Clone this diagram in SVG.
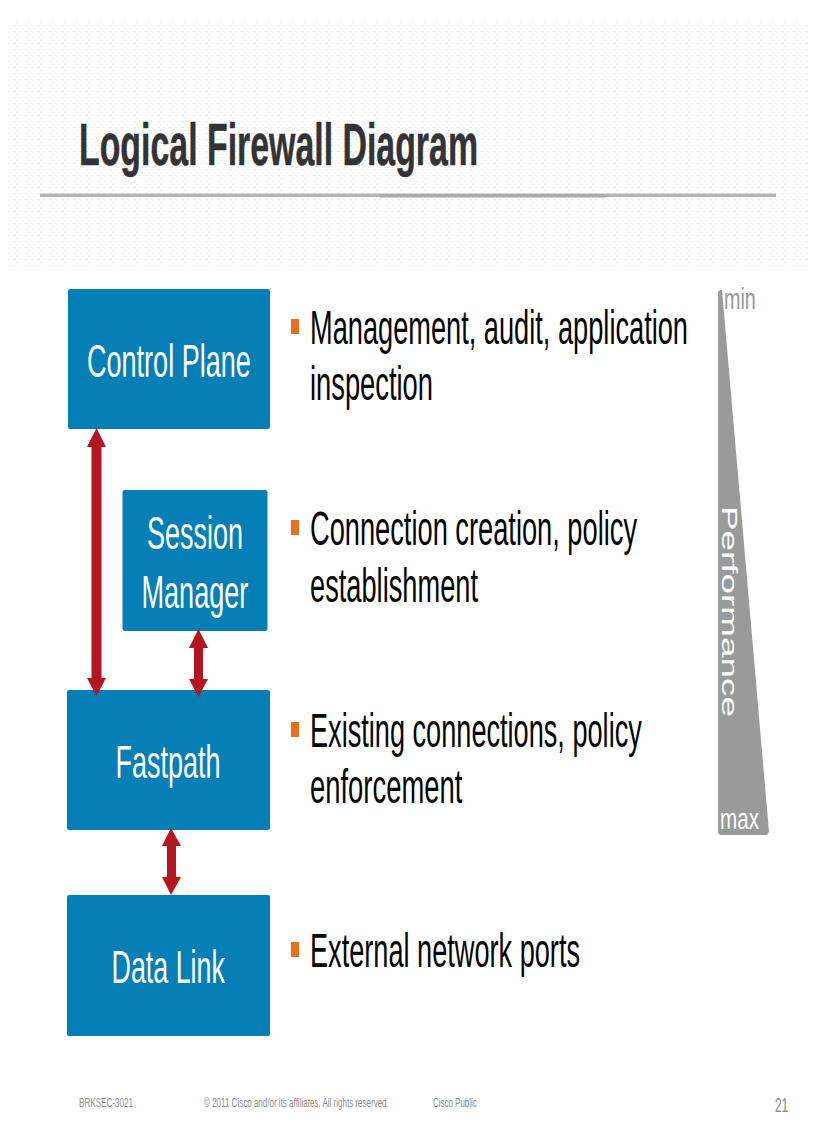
<svg xmlns="http://www.w3.org/2000/svg" width="816" height="1123" viewBox="0 0 816 1123">
<style>
text{font-family:"Liberation Sans",Arial,sans-serif}
.box{fill:#067fb6}
.n{fill:#fff;font-size:46px}
.b{fill:#050505;font-size:48px}
.sq{fill:#e8701a}
.arrow{fill:#b3161f}
.f{fill:#8c8c8c;font-size:13.5px}
</style>
<defs>
<pattern id="dither" width="12" height="6" patternUnits="userSpaceOnUse">
<rect x="1" y="1" width="3" height="1" fill="#f4e6f4"/>
<rect x="7" y="1" width="2" height="1" fill="#e6f2e6"/>
<rect x="4" y="4" width="2" height="1" fill="#ececec"/>
<rect x="10" y="4" width="1" height="1" fill="#f4e6f4"/>
</pattern>
</defs>
<rect width="816" height="1123" fill="#fff"/>
<rect x="8" y="22" width="800" height="244" fill="url(#dither)"/>
<text transform="translate(79 165) scale(.7 1)" font-size="60" font-weight="bold" fill="#333335" stroke="#333335" stroke-width=".5" textLength="570" lengthAdjust="spacingAndGlyphs">Logical Firewall Diagram</text>
<rect x="40" y="193.500" width="736" height="3.500" fill="#b4b4b4"/>
<rect x="380" y="194.500" width="226" height="3" fill="#a8a8a8"/>

<g id="control-plane"><rect class="box" x="68" y="289" width="202" height="140" rx="2"/>
<text class="n" transform="translate(87 377) scale(.6 1)" textLength="273" lengthAdjust="spacingAndGlyphs">Control Plane</text></g>
<g id="session-manager"><rect class="box" x="122.500" y="490" width="145" height="141" rx="2"/>
<text class="n" transform="translate(147 549) scale(.6 1)" textLength="160" lengthAdjust="spacingAndGlyphs">Session</text>
<text class="n" transform="translate(141.500 608) scale(.6 1)" textLength="178" lengthAdjust="spacingAndGlyphs">Manager</text></g>
<g id="fastpath"><rect class="box" x="67" y="690" width="203" height="140" rx="2"/>
<text class="n" transform="translate(115.500 778) scale(.6 1)" textLength="175" lengthAdjust="spacingAndGlyphs">Fastpath</text></g>
<g id="data-link"><rect class="box" x="67" y="895" width="203" height="141" rx="2"/>
<text class="n" transform="translate(111.500 983) scale(.6 1)" textLength="189" lengthAdjust="spacingAndGlyphs">Data Link</text></g>

<g id="connectors">
<polygon class="arrow" points="96.500,428 106,447 101.500,447 101.500,678 106,678 96.500,696 87,678 91.500,678 91.500,447 87,447"/>
<polygon class="arrow" points="198.500,629 208,648 203,648 203,679 208,679 198.500,697 189,679 194,679 194,648 189,648"/>
<polygon class="arrow" points="171,828 181,846 176,846 176,877 181,877 171,895 162,877 167,877 167,846 162,846"/>
</g>

<g id="desc-1"><rect class="sq" x="291" y="319" width="8" height="15"/>
<text class="b" transform="translate(310 344) scale(.6 1)" textLength="630" lengthAdjust="spacingAndGlyphs">Management, audit, application</text>
<text class="b" transform="translate(310 400) scale(.6 1)" textLength="205" lengthAdjust="spacingAndGlyphs">inspection</text></g>
<g id="desc-2"><rect class="sq" x="291" y="520" width="8" height="15"/>
<text class="b" transform="translate(310 545) scale(.6 1)" textLength="545" lengthAdjust="spacingAndGlyphs">Connection creation, policy</text>
<text class="b" transform="translate(310 602) scale(.6 1)" textLength="280" lengthAdjust="spacingAndGlyphs">establishment</text></g>
<g id="desc-3"><rect class="sq" x="291" y="722" width="8" height="15"/>
<text class="b" transform="translate(310 747) scale(.6 1)" textLength="553" lengthAdjust="spacingAndGlyphs">Existing connections, policy</text>
<text class="b" transform="translate(310 803) scale(.6 1)" textLength="254" lengthAdjust="spacingAndGlyphs">enforcement</text></g>
<g id="desc-4"><rect class="sq" x="291" y="942" width="8" height="15"/>
<text class="b" transform="translate(310 967) scale(.6 1)" textLength="450" lengthAdjust="spacingAndGlyphs">External network ports</text></g>

<g id="performance">
<polygon points="718,292 720,290 722,290 769,832 767,835 720,835 718,833" fill="#999b9b"/>
<text transform="translate(724 309) scale(.65 1)" font-size="29" fill="#999" textLength="49" lengthAdjust="spacingAndGlyphs">min</text>
<text transform="translate(720 829) scale(.65 1)" font-size="29" fill="#fff" textLength="60" lengthAdjust="spacingAndGlyphs">max</text>
<text transform="translate(722 506) rotate(90)" font-size="22" fill="#fff" textLength="211" lengthAdjust="spacingAndGlyphs">Performance</text>
</g>

<text class="f" transform="translate(79 1107) scale(.6 1)" textLength="90" lengthAdjust="spacingAndGlyphs">BRKSEC-3021</text>
<text class="f" transform="translate(204 1107) scale(.6 1)" textLength="308" lengthAdjust="spacingAndGlyphs">© 2011 Cisco and/or its affiliates. All rights reserved.</text>
<text class="f" transform="translate(433 1107) scale(.6 1)" textLength="73" lengthAdjust="spacingAndGlyphs">Cisco Public</text>
<text transform="translate(775 1112) scale(.6 1)" font-size="20" fill="#8c8c8c" textLength="22" lengthAdjust="spacingAndGlyphs">21</text>
</svg>
